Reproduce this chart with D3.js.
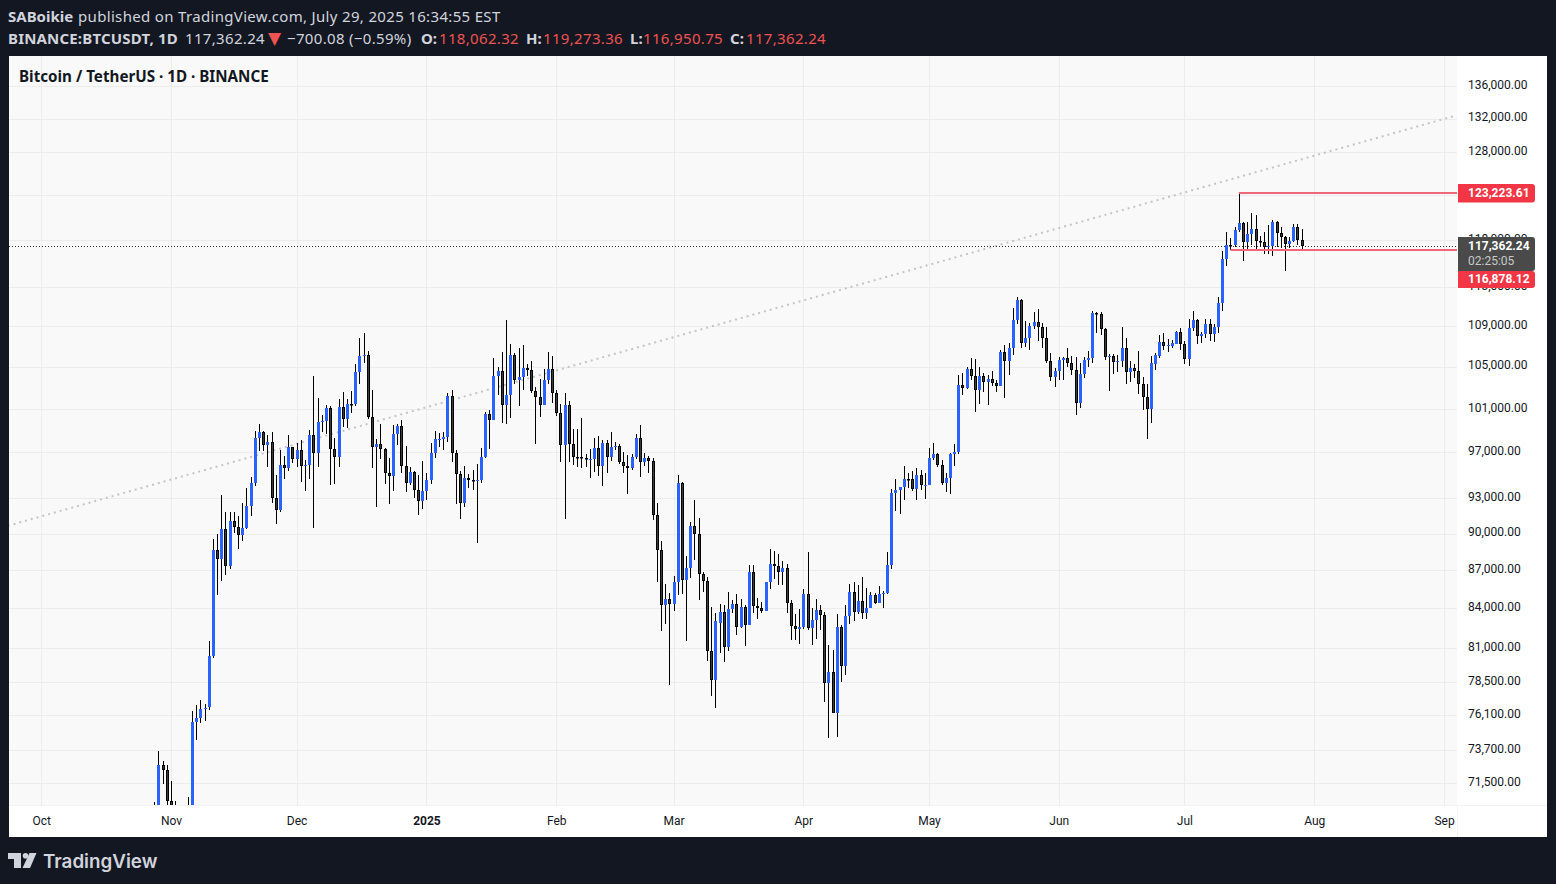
<!DOCTYPE html>
<html>
<head>
<meta charset="utf-8">
<title>BTCUSDT 1D</title>
<script src="https://cdn.jsdelivr.net/npm/d3@7"></script>
<style>
  body { margin: 0; background: #131722; }
  svg { display: block; }
  text { font-family: Roboto, sans-serif; }
</style>
</head>
<body>
<div id="chart"></div>
<script>
const WIDTH = 1556;
const HEIGHT = 884;
const PANE_LEFT = 9;
const PANE_RIGHT = 1547;
const PANE_TOP = 56;
const PANE_BOTTOM = 837;
const PLOT_RIGHT = 1457;
const PLOT_BOTTOM = 805;

// One entry per day, first candle is Oct 28 2024. One row per month.
const firstDay = new Date(Date.UTC(2024, 9, 28));

const opens = [
  68021, 69907, 72720, 72339,
  70292, 69496, 69374, 68775, 67850, 69372, 75639, 75904, 76538, 76677, 80370, 88648, 87952, 90375, 87325, 91032, 90587, 89855, 90465, 92310, 94286, 98317, 98892, 97672, 97900, 93010, 91965, 95863, 95643, 97460,
  96407, 97185, 95840, 95849, 98587, 96945, 99740, 99831, 101109, 97276, 96593, 101125, 100004, 101424, 101420, 104463, 106058, 106133, 100204, 97461, 97805, 97292, 95186, 94881, 98663, 99430, 95791, 94299, 95300, 93738, 92792,
  93576, 94591, 96985, 98174, 98220, 98363, 102235, 96954, 95060, 92553, 94726, 94599, 94511, 94536, 96561, 100498, 99987, 104078, 104556, 101331, 102260, 106144, 103706, 103960, 104819, 104714, 102682, 102087, 101332, 103734, 104722,
  102430, 100635, 97700, 101328, 97763, 96612, 96554, 96506, 96444, 96462, 97430, 95778, 97870, 96608, 97500, 97569, 96118, 95780, 95629, 96625, 98305, 96181, 96551, 96258, 91552, 88680, 84250, 84704,
  84349, 86064, 94270, 86221, 87222, 90623, 89961, 86742, 86154, 80734, 78596, 82858, 83722, 81066, 83968, 84343, 82580, 84075, 82718, 86854, 84167, 84043, 83832, 86054, 87498, 87392, 86909, 87232, 84424, 82648, 82390,
  82550, 85158, 82516, 83102, 83843, 83504, 78430, 79235, 76271, 82573, 79626, 83404, 85287, 83684, 84542, 83669, 84033, 85050, 84450, 85100, 85171, 87416, 93442, 93691, 93980, 94638, 94630, 93750, 95043, 94155,
  94172, 96489, 96887, 95856, 94277, 94733, 96834, 97034, 103261, 102971, 104809, 104118, 102791, 104103, 103507, 103763, 103463, 103126, 106454, 105573, 106850, 109643, 111696, 107318, 107761, 109004, 109434, 108938, 107781, 105589, 103985,
  104591, 105642, 105857, 105376, 104696, 101508, 104288, 105617, 105793, 110295, 110257, 108686, 105929, 106047, 105472, 105552, 106794, 104500, 104900, 104600, 103300, 102120, 100950, 105240, 106030, 107430, 106970, 107000, 107230, 108400,
  107170, 105700, 108849, 109584, 107984, 108231, 109217, 108255, 108950, 111329, 115987, 117516, 117435, 119086, 119841, 117758, 118630, 119177, 117924, 117840, 117265, 117380, 119954, 118755, 118340, 117614, 117919, 119415, 118062.32
];

const highs = [
  70270, 73620, 72960, 72700,
  71632, 70300, 69480, 69500, 70577, 76400, 76849, 77199, 76937, 81500, 89530, 89940, 93265, 91790, 91850, 91779, 91449, 92594, 93905, 94831, 98988, 99588, 98908, 98564, 98871, 94973, 97208, 96650, 98619, 97463,
  97836, 98130, 96305, 99000, 104088, 102039, 100439, 101350, 101215, 98270, 101888, 102540, 101895, 102650, 105250, 107793, 108353, 106524, 102800, 98233, 99540, 97437, 96538, 99487, 99569, 99963, 97544, 95733, 95340, 95024, 96250,
  95151, 97839, 98976, 98778, 98813, 102500, 102724, 97258, 95349, 95836, 95050, 95450, 95940, 97371, 100681, 100866, 105865, 104988, 106422, 109588, 107240, 106327, 106850, 107120, 105286, 105500, 103000, 103800, 104800, 106457, 106012,
  102783, 101456, 102500, 101732, 99150, 99120, 100137, 96880, 97323, 98345, 98478, 98119, 98100, 98826, 97970, 97750, 97046, 96753, 96899, 98711, 99475, 96980, 96670, 96500, 92540, 89400, 85950, 85200,
  86558, 95000, 94416, 88200, 90998, 92810, 91283, 86847, 86471, 84123, 83617, 84358, 84300, 85263, 84672, 85117, 84725, 84300, 87453, 87443, 84782, 84513, 86000, 88765, 88542, 88292, 87786, 87515, 84624, 83534, 83943,
  85487, 88500, 83998, 84720, 84230, 83704, 81243, 80867, 83588, 82700, 84300, 85905, 86100, 85850, 86500, 85600, 85300, 85200, 85760, 85350, 88465, 93817, 94696, 94000, 95758, 95199, 95369, 95630, 95461, 95200,
  97437, 97895, 96935, 96304, 95199, 96920, 97732, 104145, 104361, 104984, 105819, 105720, 104976, 104356, 104192, 104550, 103709, 106660, 107108, 107320, 110797, 111980, 111800, 109506, 109299, 110422, 110718, 109284, 108910, 106325, 104900,
  105900, 105950, 106794, 106000, 105909, 105333, 105900, 106488, 110530, 110400, 110392, 108780, 106182, 106249, 106128, 108952, 107771, 105550, 105250, 106534, 104000, 103350, 106074, 106290, 108135, 108300, 107700, 107600, 108500, 108800,
  107540, 109730, 110529, 109767, 108420, 109700, 109700, 109216, 111999, 116868, 118869, 118200, 119488, 123223.61, 119940, 120000, 120998, 120820, 118499, 118856, 119676, 120247, 120090, 119450, 118500, 118337, 119766, 119800, 119273.36
];

const lows = [
  67620, 69700, 71434, 69685,
  68820, 69000, 67458, 66800, 67458, 69298, 74414, 75565, 75700, 76492, 80216, 85072, 86127, 86668, 87073, 90056, 88722, 89376, 90357, 91500, 94040, 97122, 97136, 95734, 92600, 90791, 91792, 94649, 95364, 96092,
  95693, 94395, 93578, 94660, 90500, 95700, 98844, 98657, 94150, 94256, 95676, 99311, 99205, 100600, 101237, 103333, 105321, 100000, 95587, 92232, 96398, 94200, 92520, 93575, 97632, 95199, 93500, 94100, 93000, 91530, 92033,
  92870, 94201, 96500, 97514, 97250, 97914, 96181, 92500, 91220, 92206, 93831, 93711, 89256, 94346, 96500, 97352, 99950, 102278, 99651, 99550, 100119, 103339, 101257, 102750, 104106, 102520, 97777, 100272, 101328, 103320, 101560,
  100279, 96150, 91231, 96150, 95850, 95676, 95620, 95688, 94713, 95256, 94876, 94088, 95217, 96252, 97231, 96000, 95205, 93388, 95450, 96415, 94871, 95770, 95200, 91172, 86050, 82300, 82800, 78250,
  83824, 85040, 85117, 81500, 86379, 87852, 84667, 85247, 80000, 77459, 76606, 80635, 79939, 80797, 83639, 81981, 82492, 81134, 82715, 83655, 83175, 83674, 83800, 85519, 86310, 85860, 85858, 83647, 81565, 81565, 81278,
  82429, 82320, 81211, 81659, 82373, 77077, 74508, 76239, 74620, 78456, 78969, 82792, 83034, 83600, 83200, 83170, 84000, 84330, 84420, 84020, 85130, 87084, 91935, 91660, 92855, 93870, 93602, 92800, 93742, 92910,
  94118, 96322, 95753, 94151, 93514, 93377, 95784, 96876, 102315, 102818, 103722, 100718, 101429, 102602, 101383, 103100, 102612, 103105, 102000, 104200, 106100, 109177, 106800, 106875, 106600, 108670, 107516, 106800, 105322, 103621, 103068,
  103748, 103700, 105000, 104179, 100372, 101095, 103871, 104964, 105318, 108345, 108064, 105671, 102664, 104300, 104494, 104980, 103371, 103500, 103920, 102345, 100837, 98200, 99650, 104650, 105860, 106600, 106400, 106800, 107230, 106630,
  105250, 105100, 108530, 107245, 107300, 107800, 107500, 107413, 108355, 110580, 115222, 116900, 117224, 118905, 115736, 117000, 117460, 116812, 117277, 116467, 116515, 116270, 117301, 117103, 114723, 117151, 117825, 117427, 116950.75
];

const closes = [
  69907, 72720, 72339, 70292,
  69496, 69374, 68775, 67850, 69372, 75639, 75904, 76538, 76649, 80370, 88647, 87952, 90375, 87325, 91032, 90586, 89855, 90464, 92310, 94286, 98317, 98892, 97672, 97900, 93010, 91965, 95863, 95643, 97460, 96407,
  97185, 95840, 95849, 98587, 96945, 99740, 99831, 101109, 97276, 96593, 101125, 100004, 101424, 101420, 104463, 106058, 106133, 100204, 97461, 97805, 97291, 95186, 94881, 98663, 99429, 95791, 94299, 95300, 93738, 92792, 93576,
  94591, 96984, 98174, 98220, 98363, 102235, 96954, 95060, 92552, 94726, 94599, 94511, 94536, 96561, 100497, 99987, 104078, 104556, 101331, 102260, 106143, 103706, 103960, 104819, 104714, 102682, 102087, 101332, 103733, 104722, 102429,
  100635, 97700, 101328, 97763, 96612, 96554, 96506, 96444, 96462, 97430, 95778, 97870, 96608, 97500, 97569, 96118, 95780, 95629, 96625, 98305, 96181, 96551, 96258, 91552, 88680, 84250, 84704, 84349,
  86064, 94270, 86220, 87222, 90623, 89961, 86742, 86154, 80734, 78596, 83030, 83722, 81066, 83969, 84343, 82579, 84075, 82718, 86854, 84167, 84043, 83832, 86054, 87498, 87392, 86909, 87232, 84424, 82648, 82390, 82550,
  85158, 82516, 83102, 83843, 83504, 78430, 79235, 76271, 82573, 79626, 83404, 85287, 83684, 84542, 83669, 84033, 85050, 84450, 85100, 85174, 87416, 93442, 93691, 93980, 94638, 94630, 93750, 95043, 94155, 94172,
  96489, 96887, 95856, 94277, 94733, 96834, 97030, 103261, 102971, 104809, 104118, 102791, 104103, 103507, 103763, 103463, 103126, 106454, 105573, 106849, 109643, 111696, 107318, 107761, 109004, 109434, 108938, 107781, 105589, 103985, 104591,
  105642, 105857, 105376, 104696, 101508, 104288, 105617, 105793, 110295, 110257, 108686, 105929, 106047, 105472, 105552, 106794, 104500, 104886, 104600, 103300, 102120, 100950, 105330, 106130, 107430, 106970, 107130, 107300, 108400, 107170,
  105700, 108849, 109584, 107984, 108231, 109217, 108254, 108950, 111329, 115987, 117516, 117435, 119086, 119841, 117758, 118630, 119177, 117924, 117840, 117265, 117380, 119954, 118755, 118340, 117614, 117919, 119415, 118062, 117362.24
];

const priceTicks = [136000, 132000, 128000, 123000, 118000, 113000, 109000, 105000, 101000, 97000, 93000, 90000, 87000, 84000, 81000, 78500, 76100, 73700, 71500];
const monthTicks = [[2024, 9], [2024, 10], [2024, 11], [2025, 0], [2025, 1], [2025, 2], [2025, 3], [2025, 4], [2025, 5], [2025, 6], [2025, 7], [2025, 8]];
const monthLabels = ['Oct', 'Nov', 'Dec', '2025', 'Feb', 'Mar', 'Apr', 'May', 'Jun', 'Jul', 'Aug', 'Sep'];

const lastPrice = 117362.24;
const countdown = '02:25:05';
const highLevel = 123223.61;
const lowLevel = 116878.12;
const highLevelStart = new Date(Date.UTC(2025, 6, 14));
const lowLevelStart = new Date(Date.UTC(2025, 6, 12));
const trendDates = [new Date(Date.UTC(2024, 8, 23)), new Date(Date.UTC(2025, 8, 4))];
const trendPrices = [90650, 132400];

const BLUE = '#2962ff';
const RED = '#f23645';
const GRID = '#ececec';
const TEXT = '#131722';

document.addEventListener('DOMContentLoaded', function() {
  const days = opens.map((d, i) => d3.utcDay.offset(firstDay, i));
  createChart(days.map((date, i) => ({
    date: date, open: opens[i], high: highs[i], low: lows[i], close: closes[i]
  })));
});

function createChart(candles) {
  const xScale = d3.scaleUtc()
                   .domain([new Date(Date.UTC(2024, 9, 1)), new Date(Date.UTC(2025, 7, 1))])
                   .range([41.2, 1314.2]);
  const yScale = d3.scaleLog()
                   .domain([71500, 136000])
                   .range([783, 86.3]);

  const tickDates = monthTicks.map(m => new Date(Date.UTC(m[0], m[1], 1)));
  const px = v => Math.round(v) + 0.5;

  const svg = d3.select('#chart')
                .append('svg')
                .attr('width', WIDTH)
                .attr('height', HEIGHT);

  svg.append('defs').append('clipPath')
     .attr('id', 'plot-clip')
     .append('rect')
     .attr('x', PANE_LEFT)
     .attr('y', PANE_TOP)
     .attr('width', PLOT_RIGHT - PANE_LEFT)
     .attr('height', PLOT_BOTTOM - PANE_TOP);

  // White pane with the shaded plot on top of it
  svg.append('rect')
     .attr('x', PANE_LEFT)
     .attr('y', PANE_TOP)
     .attr('width', PANE_RIGHT - PANE_LEFT)
     .attr('height', PANE_BOTTOM - PANE_TOP)
     .attr('fill', '#ffffff');
  svg.append('rect')
     .attr('x', PANE_LEFT)
     .attr('y', PANE_TOP)
     .attr('width', PLOT_RIGHT - PANE_LEFT)
     .attr('height', PLOT_BOTTOM - PANE_TOP)
     .attr('fill', '#f9f9f9');

  // Faint separators between the plot and the axes
  svg.append('line')
     .attr('x1', PANE_LEFT)
     .attr('x2', PANE_RIGHT)
     .attr('y1', PLOT_BOTTOM + 0.5)
     .attr('y2', PLOT_BOTTOM + 0.5)
     .attr('stroke', '#f3f3f3');
  svg.append('line')
     .attr('x1', PLOT_RIGHT + 0.5)
     .attr('x2', PLOT_RIGHT + 0.5)
     .attr('y1', PLOT_BOTTOM)
     .attr('y2', PANE_BOTTOM)
     .attr('stroke', '#f3f3f3');

  const plot = svg.append('g').attr('clip-path', 'url(#plot-clip)');

  // Grid
  plot.selectAll('.h-grid')
      .data(priceTicks)
      .enter()
      .append('line')
      .attr('class', 'h-grid')
      .attr('x1', PANE_LEFT)
      .attr('x2', PLOT_RIGHT)
      .attr('y1', d => px(yScale(d)))
      .attr('y2', d => px(yScale(d)))
      .attr('stroke', GRID);
  plot.selectAll('.v-grid')
      .data(tickDates)
      .enter()
      .append('line')
      .attr('class', 'v-grid')
      .attr('x1', d => px(xScale(d)))
      .attr('x2', d => px(xScale(d)))
      .attr('y1', PANE_TOP)
      .attr('y2', PLOT_BOTTOM)
      .attr('stroke', GRID);

  // Grey dotted trend line
  const trendLine = d3.line().x(d => xScale(d[0])).y(d => yScale(d[1]));
  plot.append('path')
      .attr('d', trendLine(d3.zip(trendDates, trendPrices)))
      .attr('fill', 'none')
      .attr('stroke', '#c4c4c4')
      .attr('stroke-width', 2)
      .attr('stroke-dasharray', '2 4');

  // Last price line
  plot.append('line')
      .attr('x1', PANE_LEFT)
      .attr('x2', PLOT_RIGHT)
      .attr('y1', px(yScale(lastPrice)))
      .attr('y2', px(yScale(lastPrice)))
      .attr('stroke', '#2a2e39')
      .attr('stroke-dasharray', '1 2');

  // Wicks, then bodies
  plot.selectAll('.wick')
      .data(candles)
      .enter()
      .append('line')
      .attr('class', 'wick')
      .attr('x1', d => px(xScale(d.date)))
      .attr('x2', d => px(xScale(d.date)))
      .attr('y1', d => Math.round(yScale(d.high)))
      .attr('y2', d => Math.round(yScale(d.low)))
      .attr('stroke', '#000000');

  const top = d => Math.round(yScale(Math.max(d.open, d.close)));
  const bottom = d => Math.round(yScale(Math.min(d.open, d.close)));

  plot.selectAll('.body-up')
      .data(candles.filter(d => d.close >= d.open))
      .enter()
      .append('rect')
      .attr('class', 'body-up')
      .attr('x', d => px(xScale(d.date)) - 1.5)
      .attr('y', top)
      .attr('width', 3)
      .attr('height', d => Math.max(1, bottom(d) - top(d)))
      .attr('fill', BLUE);

  plot.selectAll('.body-down')
      .data(candles.filter(d => d.close < d.open))
      .enter()
      .append('rect')
      .attr('class', 'body-down')
      .attr('x', d => px(xScale(d.date)) - 1)
      .attr('y', d => top(d) + 0.5)
      .attr('width', 2)
      .attr('height', d => Math.max(0.5, bottom(d) - top(d) - 1))
      .attr('fill', '#3c3c3c')
      .attr('stroke', '#000000');

  // High and low levels
  const levels = [[highLevelStart, highLevel], [lowLevelStart, lowLevel]];
  plot.selectAll('.level')
      .data(levels)
      .enter()
      .append('line')
      .attr('class', 'level')
      .attr('x1', d => xScale(d[0]))
      .attr('x2', PLOT_RIGHT)
      .attr('y1', d => Math.round(yScale(d[1])))
      .attr('y2', d => Math.round(yScale(d[1])))
      .attr('stroke', '#f0677a')
      .attr('stroke-width', 2);

  // Price axis
  const yAxis = d3.axisRight(yScale)
                  .tickValues(priceTicks)
                  .tickFormat(d3.format(',.2f'))
                  .tickSize(0)
                  .tickPadding(11);
  const yAxisG = svg.append('g')
                    .attr('transform', 'translate(' + PLOT_RIGHT + ', -1.5)')
                    .call(yAxis);
  yAxisG.select('.domain').remove();
  yAxisG.selectAll('text')
        .attr('fill', TEXT)
        .style('font-size', '12px')
        .style('font-family', 'Roboto, sans-serif');

  // Time axis
  const xAxis = d3.axisBottom(xScale)
                  .tickValues(tickDates)
                  .tickFormat((d, i) => monthLabels[i])
                  .tickSize(0)
                  .tickPadding(11);
  const xAxisG = svg.append('g')
                    .attr('transform', 'translate(0, ' + PLOT_BOTTOM + ')')
                    .call(xAxis);
  xAxisG.select('.domain').remove();
  xAxisG.selectAll('text')
        .attr('fill', TEXT)
        .style('font-size', '12px')
        .style('font-family', 'Roboto, sans-serif')
        .style('font-weight', (d, i) => monthLabels[i] === '2025' ? 700 : 400);

  // Price labels
  const priceFormat = d3.format(',.2f');
  drawLabel(svg, 184, 18.6, 197, RED, priceFormat(highLevel));
  drawLabel(svg, 271, 17, 282.5, RED, priceFormat(lowLevel));
  drawLabel(svg, 237, 34, 250, '#4a4a4a', priceFormat(lastPrice));
  svg.append('text')
     .attr('x', 1468)
     .attr('y', 265)
     .attr('fill', '#c8c8c8')
     .style('font-size', '12px')
     .text(countdown);

  drawHeader(svg);
  drawLogo(svg);
}

function drawLabel(svg, y, height, baseline, color, label) {
  svg.append('path')
     .attr('d', 'M' + (PLOT_RIGHT + 1) + ',' + y + 'h74a3,3 0 0 1 3,3v' + (height - 6) + 'a3,3 0 0 1 -3,3h-74z')
     .attr('fill', color);
  svg.append('text')
     .attr('x', 1468)
     .attr('y', baseline)
     .attr('fill', '#ffffff')
     .style('font-size', '12px')
     .style('font-weight', 700)
     .text(label);
}

function drawHeader(svg) {
  const light = '#d1d4dc';
  const red = '#ef5350';
  const font = '"Noto Sans", sans-serif';

  // Text, x, bold, colour, for each run of the two header lines
  const firstLine = [
    ['SABoikie', 8, true, light],
    ['published on TradingView.com, July 29, 2025 16:34:55 EST', 78, false, light]
  ];
  const secondLine = [
    ['BINANCE:BTCUSDT, 1D', 8, true, light],
    ['117,362.24', 185, false, light],
    ['−700.08 (−0.59%)', 287, false, light],
    ['O:', 421, true, light], ['118,062.32', 439, false, red],
    ['H:', 526, true, light], ['119,273.36', 543, false, red],
    ['L:', 630, true, light], ['116,950.75', 643, false, red],
    ['C:', 730, true, light], ['117,362.24', 746, false, red]
  ];

  [[firstLine, 22], [secondLine, 44]].forEach(function(line) {
    svg.selectAll(null)
       .data(line[0])
       .enter()
       .append('text')
       .attr('x', d => d[1])
       .attr('y', line[1])
       .attr('fill', d => d[3])
       .style('font-family', font)
       .style('font-size', '15px')
       .style('font-weight', d => d[2] ? 700 : 400)
       .style('letter-spacing', d => d[2] ? (d[0].length > 10 ? '0.18px' : '0') : '0.33px')
       .text(d => d[0]);
  });

  svg.append('text')
     .attr('x', 268)
     .attr('y', 44)
     .attr('fill', red)
     .style('font-family', '"DejaVu Sans", sans-serif')
     .style('font-size', '17px')
     .text('▼');

  svg.append('text')
     .attr('x', 19)
     .attr('y', 82)
     .attr('fill', TEXT)
     .style('font-family', font)
     .style('font-weight', 700)
     .style('font-size', '15.2px')
     .text('Bitcoin / TetherUS · 1D · BINANCE');
}

function drawLogo(svg) {
  const logo = svg.append('g').attr('fill', '#d1d4dc');
  logo.append('path').attr('d', 'M8,853h13v15h-7v-9h-6z');
  logo.append('circle').attr('cx', 25.5).attr('cy', 855.7).attr('r', 2.8);
  logo.append('path').attr('d', 'M29.5,853h7l-6.5,15h-7.5z');
  logo.append('text')
      .attr('x', 43)
      .attr('y', 868)
      .attr('fill', '#d1d4dc')
      .style('font-family', 'Inter, sans-serif')
      .style('font-weight', 600)
      .style('font-size', '18.8px')
      .text('TradingView');
}
</script>
</body>
</html>
